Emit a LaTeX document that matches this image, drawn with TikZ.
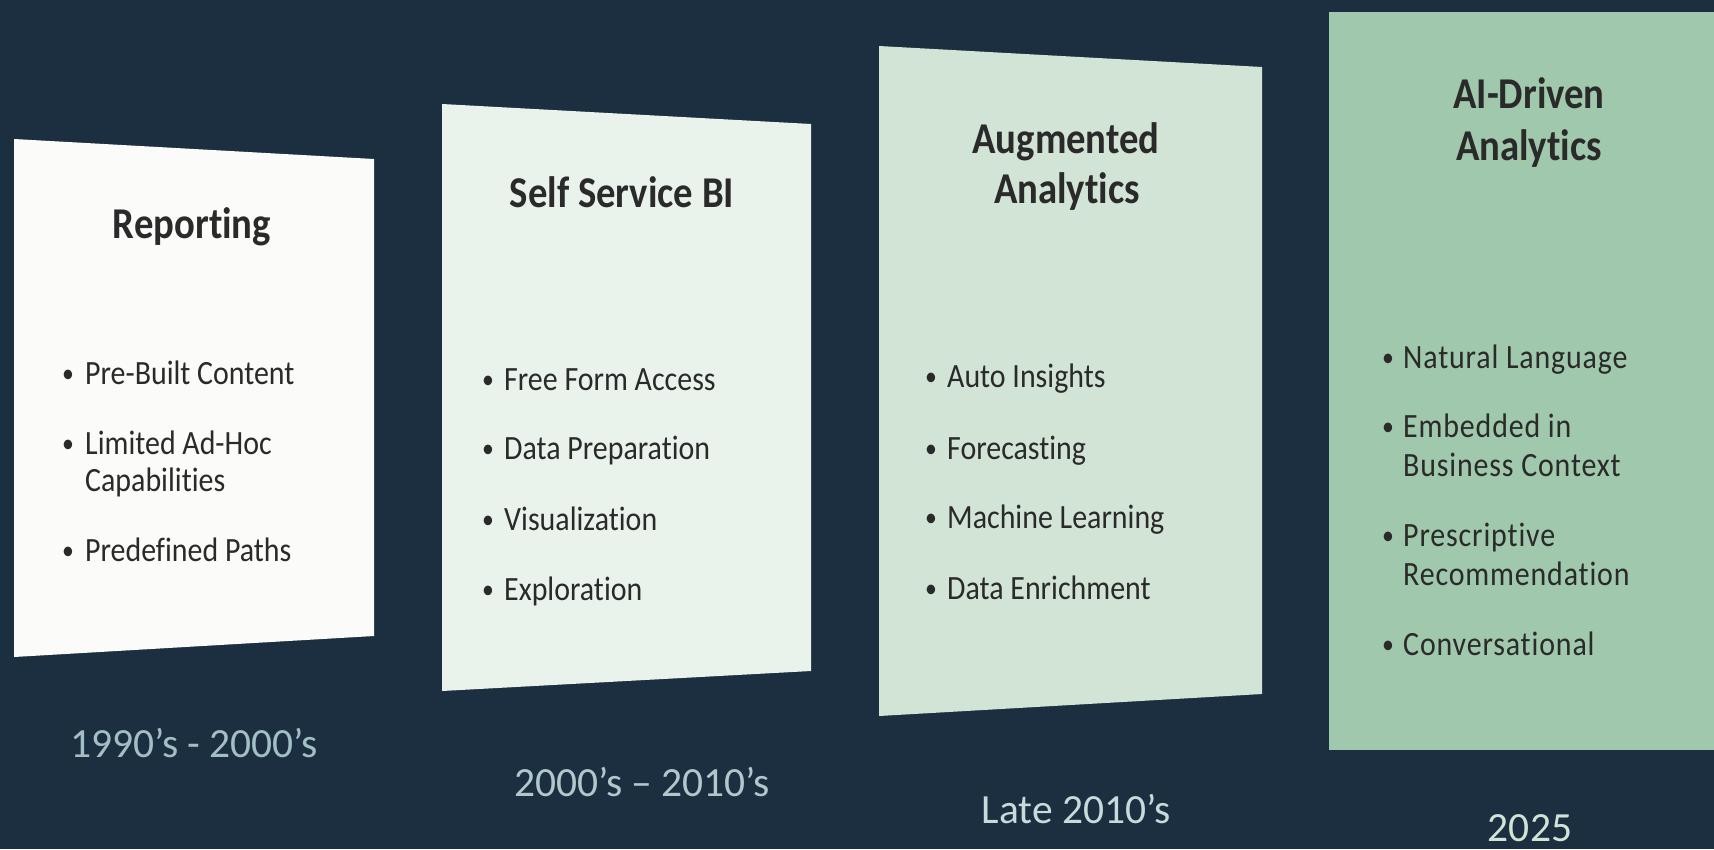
\documentclass[tikz,border=0pt]{standalone}
\usepackage{fontspec}
\setmainfont{Carlito}[Ligatures=NoCommon]
\newfontfamily\panelfont{Carlito}[FakeStretch=0.88, Ligatures=NoCommon]
\newfontfamily\widefont{Carlito}[FakeStretch=0.88, Ligatures=NoCommon, LetterSpace=2.5]
\definecolor{navy}{HTML}{1B2F41}
\definecolor{ink}{HTML}{2A2A2A}
\definecolor{paneA}{HTML}{FBFBF9}
\definecolor{paneB}{HTML}{E9F3EC}
\definecolor{paneC}{HTML}{D2E4D6}
\definecolor{paneD}{HTML}{A0C8AC}
\definecolor{eraA}{HTML}{A3BFC3}
\definecolor{eraB}{HTML}{AFC8CB}
\definecolor{eraC}{HTML}{C6DBDA}
\definecolor{eraD}{HTML}{CFE4D5}
\tikzstyle{head} = [font=\panelfont\bfseries\fontsize{44}{50}\selectfont, text=ink, anchor=base, inner sep=0pt]
\tikzstyle{item} = [font=\panelfont\fontsize{34}{40}\selectfont, text=ink, anchor=base west, inner sep=0pt]
\tikzstyle{wideitem} = [item, font=\widefont\fontsize{34}{40}\selectfont]
\tikzstyle{dot} = [font=\panelfont\fontsize{27}{30}\selectfont, text=ink, anchor=base, inner sep=0pt]
\tikzstyle{era} = [font=\fontsize{41.5}{48}\selectfont, anchor=base, inner sep=0pt]

\begin{document}
\begin{tikzpicture}[x=1pt,y=-1pt]
	\fill[navy] (0,0) rectangle (1714,849);
	\useasboundingbox (0,0) rectangle (1714,849);
	% panels
	\fill[paneA] (14,139) -- (374,159) -- (374,636) -- (14,657) -- cycle;
	\fill[paneB] (442,104) -- (811,124) -- (811,671) -- (442,691) -- cycle;
	\fill[paneC] (879,46) -- (1262,67) -- (1262,694) -- (879,716) -- cycle;
	\fill[paneD] (1329,12) rectangle (1714,750);
	% Reporting
	\node[head] (t1) at (192,238) {Reporting};
	\node[dot] (d11) at (68,382) {•};
	\node[item] (i11) at (85,384) {Pre-Built Content};
	\node[dot] (d12) at (68,452) {•};
	\node[item] (i12) at (85,454) {Limited Ad-Hoc};
	\node[item] (i12b) at (85,491) {Capabilities};
	\node[dot] (d13) at (68,559) {•};
	\node[item] (i13) at (85,561) {Predefined Paths};
	% Self Service BI
	\node[head] (t2) at (622,207) {Self Service BI};
	\node[dot] (d21) at (488,388) {•};
	\node[item] (i21) at (504,390) {Free Form Access};
	\node[dot] (d22) at (488,457) {•};
	\node[item] (i22) at (504,459) {Data Preparation};
	\node[dot] (d23) at (488,528) {•};
	\node[item] (i23) at (504,530) {Visualization};
	\node[dot] (d24) at (488,598) {•};
	\node[item] (i24) at (504,600) {Exploration};
	% Augmented Analytics
	\node[head] (t3) at (1066,153) {Augmented};
	\node[head] (t3b) at (1067,203) {Analytics};
	\node[dot] (d31) at (931,385) {•};
	\node[item] (i31) at (947,387) {Auto Insights};
	\node[dot] (d32) at (931,457) {•};
	\node[item] (i32) at (947,459) {Forecasting};
	\node[dot] (d33) at (931,526) {•};
	\node[item] (i33) at (947,528) {Machine Learning};
	\node[dot] (d34) at (931,597) {•};
	\node[item] (i34) at (947,599) {Data Enrichment};
	% AI-Driven Analytics
	\node[head] (t4) at (1529,108) {AI-Driven};
	\node[head] (t4b) at (1529,160) {Analytics};
	\node[dot] (d41) at (1388,366) {•};
	\node[wideitem] (i41) at (1403,368) {Natural Language};
	\node[dot] (d42) at (1388,435) {•};
	\node[wideitem] (i42) at (1403,437) {Embedded in};
	\node[wideitem] (i42b) at (1403,476) {Business Context};
	\node[dot] (d43) at (1388,544) {•};
	\node[wideitem] (i43) at (1403,546) {Prescriptive};
	\node[wideitem] (i43b) at (1403,585) {Recommendation};
	\node[dot] (d44) at (1388,653) {•};
	\node[wideitem] (i44) at (1403,655) {Conversational};
	% eras
	\node[era, text=eraA] (e1) at (194,757) {1990’s - 2000’s};
	\node[era, text=eraB] (e2) at (642,796) {2000’s – 2010’s};
	\node[era, text=eraC] (e3) at (1076,823) {Late 2010’s};
	\node[era, text=eraD] (e4) at (1530,841) {2025};
\end{tikzpicture}
\end{document}
